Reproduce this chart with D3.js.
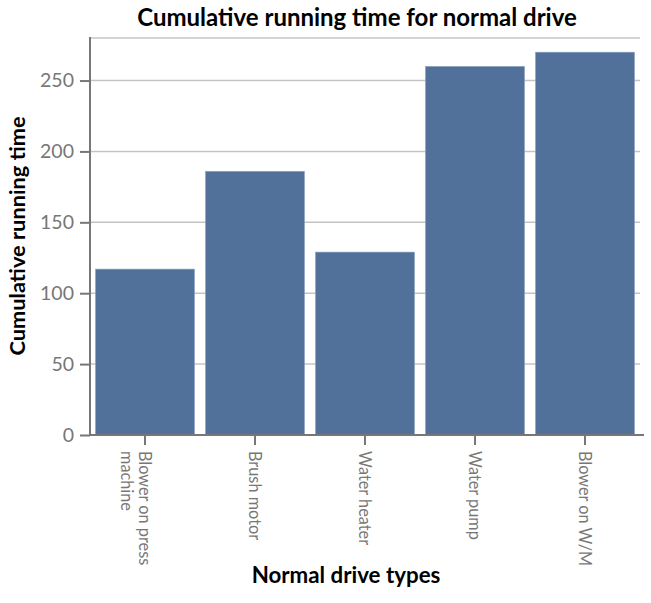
<!DOCTYPE html>
<html><head><meta charset="utf-8">
<script src="https://cdn.jsdelivr.net/npm/d3@7"></script>
<style>body{margin:0;background:#fff}svg{display:block}</style>
</head><body><svg id="c" width="651" height="603"></svg>
<script>
const categories = ["Blower on press machine","Brush motor","Water heater","Water pump","Blower on W/M"];
const labelLines = [["Blower on press","machine"],["Brush motor"],["Water heater"],["Water pump"],["Blower on W/M"]];
const values = [117, 186, 129, 260, 270];
const yTicks = [0, 50, 100, 150, 200, 250];
const titleText = "Cumulative running time for normal drive";
const xTitle = "Normal drive types";
const yTitle = "Cumulative running time";

(function(){
const svg = d3.select("#c");
const font = "'Source Sans Pro', Lato, 'Open Sans', sans-serif";
const mL = 90, mR = 640, mT = 38, mB = 435;
const x = d3.scaleBand().domain(categories).range([mL, mR]).paddingInner(0.1).paddingOuter(0.05);
const y = d3.scaleLinear().domain([0, 280]).range([mB, mT]);

// grid
svg.append("g").selectAll("line").data(yTicks.filter(d=>d>0).concat([280])).join("line")
  .attr("x1", mL).attr("x2", mR).attr("y1", d=>y(d)).attr("y2", d=>y(d))
  .attr("stroke", "#c4c4c4").attr("stroke-width", 1.5);

// bars
svg.append("g").selectAll("rect").data(values).join("rect")
  .attr("x", (d,i)=>x(categories[i])).attr("width", x.bandwidth())
  .attr("y", d=>y(d)).attr("height", d=>y(0)-y(d))
  .attr("fill", "#51719b").attr("stroke", "#8da4c2").attr("stroke-width", 0.6);

// y axis
const ya = svg.append("g").attr("transform", `translate(${mL},0)`)
  .call(d3.axisLeft(y).tickValues(yTicks).tickSize(10).tickPadding(6));
ya.select(".domain").attr("d", `M0,${mT-1}V${mB}`).attr("stroke", "#777").attr("stroke-width", 2);
ya.selectAll(".tick line").attr("stroke", "#777").attr("stroke-width", 2);
ya.selectAll(".tick text").attr("fill", "#777").attr("font-family", font).attr("font-size", 19.5);

// x axis
const xa = svg.append("g").attr("transform", `translate(0,${mB})`)
  .call(d3.axisBottom(x).tickSize(10).tickFormat(""));
xa.select(".domain").attr("d", `M${mL-1},0H${mR+4}`).attr("stroke", "#777").attr("stroke-width", 2);
xa.selectAll(".tick line").attr("stroke", "#777").attr("stroke-width", 2);
xa.selectAll(".tick").each(function(d,i){
  const t = d3.select(this).append("text")
    .attr("transform", "translate(0,16) rotate(90)")
    .attr("fill", "#777").attr("font-family", font).attr("font-size", 16.3)
    .attr("text-anchor", "start");
  labelLines[i].forEach((ln,j)=>{
    t.append("tspan").attr("x", 0).attr("y", j*18).attr("dy", "0.35em").text(ln);
  });
});

// titles
svg.append("text").attr("x", 357).attr("y", 26).attr("text-anchor","middle")
  .attr("font-family", font).attr("font-weight","bold").attr("font-size", 24).attr("fill","#000").text(titleText);
svg.append("text").attr("x", 346).attr("y", 583).attr("text-anchor","middle")
  .attr("font-family", font).attr("font-weight","bold").attr("font-size", 22.3).attr("fill","#000").text(xTitle);
svg.append("text").attr("transform","translate(25,236) rotate(-90)").attr("text-anchor","middle")
  .attr("font-family", font).attr("font-weight","bold").attr("font-size", 21.8).attr("fill","#000").text(yTitle);
})();
</script></body></html>
